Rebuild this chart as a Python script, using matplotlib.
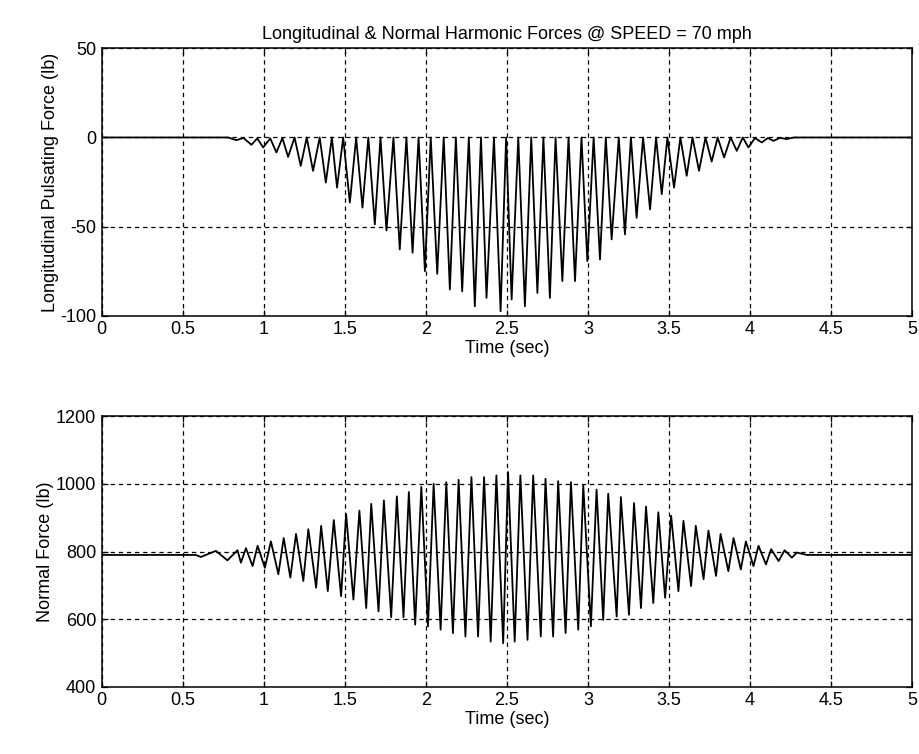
import matplotlib
matplotlib.use("Agg")
import matplotlib.pyplot as plt

plt.rcParams['font.family'] = ['Liberation Sans', 'DejaVu Sans']
plt.rcParams['axes.unicode_minus'] = False

# Longitudinal force: turning points (time s, force lb)
long_t = [0.0, 0.78,
          0.831, 0.875, 0.924, 0.960, 0.996, 1.040, 1.078, 1.115, 1.150, 1.190,
          1.228, 1.265, 1.304, 1.345, 1.383, 1.420, 1.452, 1.490, 1.531, 1.570,
          1.609, 1.645, 1.685, 1.720, 1.757, 1.800, 1.839, 1.880, 1.918, 1.955,
          1.994, 2.030, 2.070, 2.110, 2.148, 2.185, 2.224, 2.265, 2.302, 2.340,
          2.374, 2.420, 2.461, 2.495, 2.529, 2.570, 2.611, 2.650, 2.688, 2.725,
          2.765, 2.800, 2.842, 2.880, 2.920, 2.960, 2.996, 3.035, 3.074, 3.110,
          3.146, 3.190, 3.228, 3.265, 3.300, 3.340, 3.383, 3.420, 3.455, 3.490,
          3.531, 3.570, 3.609, 3.645, 3.685, 3.725, 3.763, 3.800, 3.840, 3.880,
          3.918, 3.955, 3.990, 4.030, 4.072, 4.110, 4.144, 4.185, 4.226, 4.270,
          5.0]
long_f = [0.0, 0.0,
          -1.5, -0.3, -4.1, -0.5, -5.6, -0.5, -8.4, -0.3, -10.9, 0.0,
          -15.9, 0.0, -18.7, 0.0, -25.3, 0.0, -28.1, 0.0, -36.5, 0.0,
          -39.3, 0.0, -48.7, 0.0, -52.1, 0.0, -62.7, 0.0, -64.6, 0.0,
          -74.9, 0.0, -76.4, 0.0, -85.2, 0.0, -86.2, 0.0, -94.6, 0.0,
          -89.9, 0.0, -97.4, 0.0, -90.8, 0.0, -94.6, 0.0, -87.1, 0.0,
          -89.9, 0.0, -80.5, 0.0, -80.5, 0.0, -69.3, 0.0, -68.4, 0.0,
          -57.1, 0.0, -54.3, 0.0, -45.0, 0.0, -40.3, 0.0, -31.8, 0.0,
          -28.1, 0.0, -21.5, 0.0, -18.7, 0.0, -13.5, 0.0, -11.2, 0.0,
          -7.5, 0.0, -5.6, -0.3, -2.8, -0.3, -1.9, -0.2, -0.9, 0.0,
          0.0]

# Normal force: turning points
norm_t = [0.0, 0.58,
          0.612, 0.705, 0.776, 0.838, 0.859, 0.890, 0.931, 0.962, 1.007, 1.044,
          1.090, 1.123, 1.164, 1.199, 1.244, 1.275, 1.323, 1.354, 1.395, 1.432,
          1.477, 1.508, 1.553, 1.590, 1.632, 1.663, 1.708, 1.741, 1.786, 1.821,
          1.862, 1.895, 1.934, 1.972, 2.013, 2.048, 2.091, 2.126, 2.167, 2.202,
          2.244, 2.281, 2.322, 2.359, 2.400, 2.435, 2.477, 2.507, 2.548, 2.583,
          2.627, 2.662, 2.709, 2.738, 2.785, 2.816, 2.862, 2.895, 2.940, 2.971,
          3.018, 3.053, 3.094, 3.125, 3.177, 3.203, 3.253, 3.284, 3.327, 3.358,
          3.403, 3.434, 3.476, 3.513, 3.558, 3.589, 3.636, 3.665, 3.713, 3.743,
          3.790, 3.818, 3.866, 3.898, 3.943, 3.974, 4.021, 4.052, 4.098, 4.130,
          4.176, 4.213, 4.258, 4.289, 4.350, 5.0]
norm_f = [790, 790,
          784, 802, 774, 804, 767, 810, 757, 817, 752, 830,
          733, 840, 723, 852, 713, 866, 693, 876, 683, 893,
          668, 911, 658, 921, 633, 941, 623, 951, 606, 963,
          606, 976, 584, 991, 579, 1000, 569, 1005, 559, 1012,
          549, 1020, 549, 1020, 534, 1025, 529, 1035, 534, 1025,
          539, 1025, 549, 1015, 549, 1008, 559, 1005, 569, 996,
          579, 983, 598, 971, 608, 961, 613, 943, 633, 933,
          648, 916, 663, 906, 683, 891, 698, 876, 718, 862,
          728, 852, 742, 840, 747, 830, 757, 817, 762, 807,
          772, 804, 782, 797, 790, 790]

time_ticks = [0, 0.5, 1, 1.5, 2, 2.5, 3, 3.5, 4, 4.5, 5]
time_labels = ['0', '0.5', '1', '1.5', '2', '2.5', '3', '3.5', '4', '4.5', '5']

fs = 13

fig = plt.figure(figsize=(9.2, 7.54), dpi=100)
ax1 = fig.add_axes([0.1105, 0.581, 0.881, 0.355])
ax2 = fig.add_axes([0.1105, 0.089, 0.881, 0.359])


def style(ax, ylim, yticks):
    ax.set_xlim(0, 5)
    ax.set_ylim(*ylim)
    ax.set_xticks(time_ticks)
    ax.set_xticklabels(time_labels)
    ax.set_yticks(yticks)
    ax.grid(True, color='black', linestyle=(0, (3.5, 3)), linewidth=0.9)
    ax.tick_params(direction='in', length=4, top=True, right=True,
                   labelsize=fs, pad=4, width=0.9)
    for s in ax.spines.values():
        s.set_linewidth(1.1)
    ax.set_xlabel('Time (sec)', fontsize=fs, labelpad=1)


ax1.plot(long_t, long_f, color='black', linewidth=1.3)
style(ax1, (-100, 50), [-100, -50, 0, 50])
ax1.set_ylabel('Longitudinal Pulsating Force (lb)', fontsize=fs, labelpad=1)
ax1.set_title('Longitudinal & Normal Harmonic Forces @ SPEED = 70 mph',
              fontsize=fs, pad=7)

ax2.plot(norm_t, norm_f, color='black', linewidth=1.3)
style(ax2, (400, 1200), [400, 600, 800, 1000, 1200])
ax2.set_ylabel('Normal Force (lb)', fontsize=fs, labelpad=1)

fig.savefig('out.png', dpi=100)
